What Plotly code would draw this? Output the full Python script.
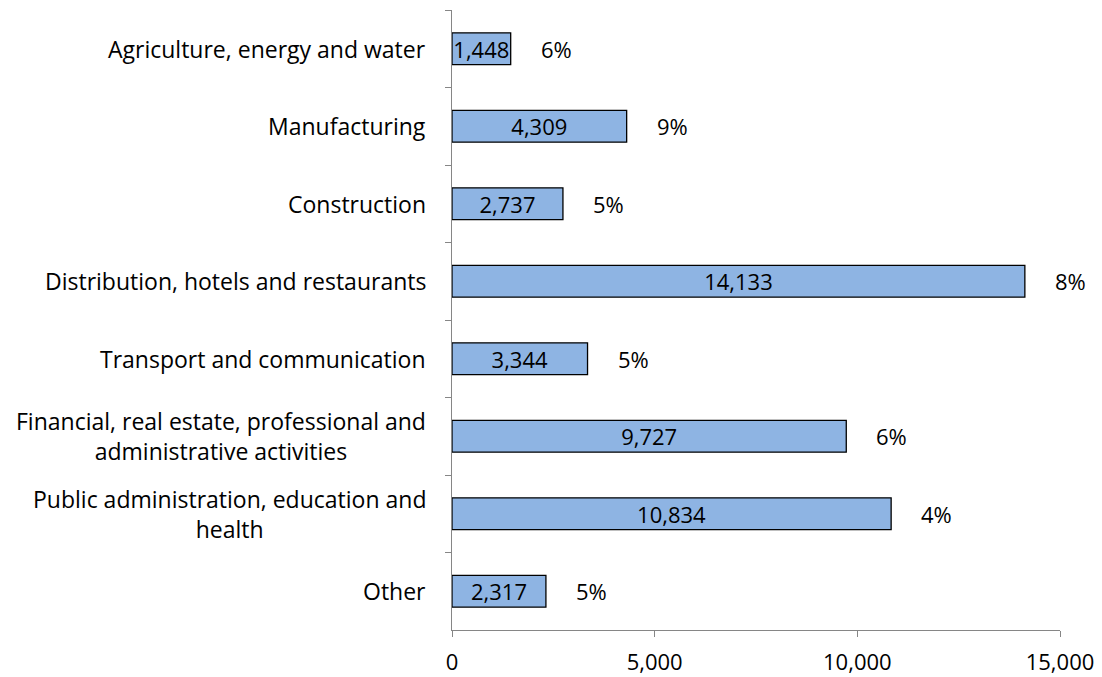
import plotly.graph_objects as go

categories = [
    "Agriculture, energy and water",
    "Manufacturing",
    "Construction",
    "Distribution, hotels and restaurants",
    "Transport and communication",
    "Financial, real estate, professional and<br>administrative activities",
    "Public administration, education and<br>health",
    "Other",
]
values = [1448, 4309, 2737, 14133, 3344, 9727, 10834, 2317]
shares = ["6%", "9%", "5%", "8%", "5%", "6%", "4%", "5%"]
x_ticks = [0, 5000, 10000, 15000]
x_tick_labels = ["0", "5,000", "10,000", "15,000"]

FONT = "Open Sans"
FS = 22
FS_CAT = 23

fig = go.Figure()
fig.add_trace(go.Bar(
    y=categories, x=values, orientation="h",
    marker=dict(color="#8EB4E3", line=dict(color="#000000", width=1.3)),
    text=[f"{v:,}" for v in values], textposition="inside",
    insidetextanchor="middle", constraintext="none",
    textfont=dict(family=FONT, size=FS, color="#000000"),
    width=0.41, showlegend=False, cliponaxis=False,
))

annotations = []
for c, v, s in zip(categories, values, shares):
    annotations.append(dict(x=v, y=c, xref="x", yref="y", text=s, showarrow=False,
                            xanchor="left", xshift=28,
                            font=dict(family=FONT, size=FS, color="#000000")))
    annotations.append(dict(x=0, y=c, xref="paper", yref="y", text=c, showarrow=False,
                            xanchor="right", align="center", xshift=-24,
                            font=dict(family=FONT, size=FS_CAT, color="#000000")))

fig.update_layout(
    width=1102, height=677,
    margin=dict(l=452, r=42, t=10, b=47, autoexpand=False),
    plot_bgcolor="white", paper_bgcolor="white",
    annotations=annotations,
    xaxis=dict(range=[0, 15000], tickvals=x_ticks, ticktext=x_tick_labels,
               showgrid=False, zeroline=False, showline=True, linecolor="#868686",
               linewidth=1.3, ticks="outside", ticklen=6, tickcolor="#868686",
               ticklabelstandoff=6, automargin=False,
               tickfont=dict(family=FONT, size=FS, color="#000000")),
    yaxis=dict(autorange="reversed", showgrid=False, zeroline=False,
               showline=True, linecolor="#868686", linewidth=1.3,
               ticks="outside", ticklen=6, tickcolor="#868686",
               tickson="boundaries", showticklabels=False, automargin=False),
)

fig.write_html("out.html", config={"displayModeBar": False},
               post_script="document.body.style.margin='0';")
